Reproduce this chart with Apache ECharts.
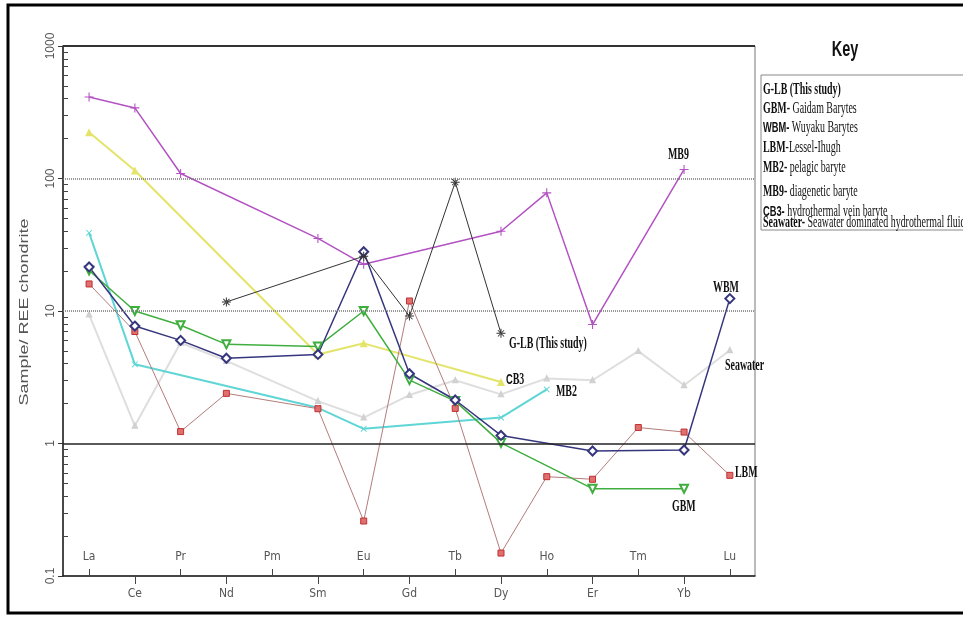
<!DOCTYPE html>
<html><head><meta charset="utf-8">
<script src="https://cdn.jsdelivr.net/npm/echarts@6/dist/echarts.min.js"></script>
<style>html,body{margin:0;padding:0;background:#fff}#c{width:963px;height:617px}</style>
</head><body><div id="c"></div>
<script>
// ---- data ----
const ree = ['La','Ce','Pr','Nd','Pm','Sm','Eu','Gd','Tb','Dy','Ho','Er','Tm','Yb','Lu'];
const yTickValues = [0.1, 1, 10, 100, 1000];
const glb      = [null, null, null, 11.7, null, null, 25.9, 9.15, 93.8, 6.78, null, null, null, null, null];
const gbm      = [20.2, 10.0, 7.8, 5.6, null, 5.4, 10.0, 3.01, 2.09, 1.01, null, 0.456, null, 0.456, null];
const wbm      = [21.5, 7.7, 6.0, 4.4, null, 4.7, 28.0, 3.36, 2.13, 1.15, null, 0.878, null, 0.893, 12.4];
const lbm      = [16.0, 7.0, 1.23, 2.39, null, 1.83, 0.26, 11.9, 1.84, 0.149, 0.562, 0.537, 1.32, 1.22, 0.575];
const mb2      = [38.9, 3.96, null, null, null, 1.86, 1.29, null, null, 1.57, 2.56, null, null, null, null];
const mb9      = [412, 341, 109, null, null, 35.3, 22.5, null, null, 40.0, 77.9, 7.9, null, 117, null];
const cb3      = [223, 115, null, null, null, 4.7, 5.7, null, null, 2.91, null, null, null, null, null];
const seawater = [9.4, 1.36, 5.76, 4.2, null, 2.09, 1.57, 2.32, 3.0, 2.35, 3.1, 3.0, 4.98, 2.75, 5.05];

// ---- helpers ----
const pts = arr => arr.map((v, i) => v == null ? null : [i, v]).filter(Boolean);
const oddIdx = ree.map((_, i) => i).filter(i => i % 2 === 1);
const evenIdx = ree.map((_, i) => i).filter(i => i % 2 === 0);
const minorTicks = [];
for (let n = -1; n <= 2; n++) for (let k = 2; k <= 9; k++) minorTicks.push(Math.log10(k) + n);

const PLUS = 'path://M4.4,0h1.2v10h-1.2z M0,4.4h10v1.2h-10z';
const STAR = 'path://M4.45,0h1.1v10h-1.1z M0,4.45h10v1.1h-10z M1.2,1.9L1.9,1.2L8.8,8.1L8.1,8.8Z M8.8,1.9L8.1,1.2L1.2,8.1L1.9,8.8Z';

const XMIN = -0.57, XMAX = 14.55;
const tickFont = '"DejaVu Sans Condensed","Liberation Sans",sans-serif';

function line(name, arr, color, width, symbol, size, extra) {
  return Object.assign({
    name, type: 'line', data: pts(arr), xAxisIndex: 0, yAxisIndex: 0,
    symbol, symbolSize: size, showSymbol: true,
    lineStyle: { color, width }, itemStyle: { color, borderWidth: 1 },
    animation: false, silent: true
  }, extra || {});
}

const chart = echarts.init(document.getElementById('c'), null, { renderer: 'canvas' });

const series = [
  line('Seawater', seawater, '#dedede', 2, 'emptyTriangle', 4, {
    itemStyle: { color: '#d0d0d0', borderWidth: 1 },
    markLine: {
      silent: true, symbol: 'none', label: { show: false }, animation: false,
      data: [
        { yAxis: 1, lineStyle: { color: '#222', width: 1.5, type: 'solid' } },
        { yAxis: 10, lineStyle: { color: '#777', width: 1.5, type: [1, 1] } },
        { yAxis: 100, lineStyle: { color: '#777', width: 1.5, type: [1, 1] } },
        { yAxis: 1000, lineStyle: { color: '#333', width: 2, type: 'solid' } }
      ]
    }
  }),
  line('MB2', mb2, '#5fd5d5', 2, PLUS, 8, { symbolRotate: 45 }),
  line('CB3', cb3, '#e4e46a', 2, 'triangle', 8),
  line('MB9', mb9, '#b352c2', 1.5, PLUS, 9),
  line('LBM', lbm, '#b47c7c', 1, 'rect', 6, { itemStyle: { color: '#e07070', borderColor: '#c03030', borderWidth: 1 } }),
  line('GBM', gbm, '#3fae3f', 1.5, 'emptyTriangle', 8, { symbolRotate: 180 }),
  line('WBM', wbm, '#36367e', 1.5, 'emptyDiamond', 9),
  line('G-LB', glb, '#333333', 1, STAR, 9)
];

const serif = '"Liberation Serif","Times New Roman",serif';
const SX = 0.62;
function lbl(x, y, rich) {
  return { type: 'text', x, y, scaleX: SX, scaleY: 1, silent: true,
    style: { text: rich, fontFamily: serif, fontSize: 16, fill: '#111', textVerticalAlign: 'middle',
      rich: { b: { fontWeight: 'bold', fontFamily: serif, fontSize: 16, fill: '#111' },
              bs: { fontWeight: 'bold', fontFamily: '"Liberation Sans",sans-serif', fontSize: 15, fill: '#111' } } } };
}

const option = {
  backgroundColor: '#fff',
  animation: false,
  grid: [
    { left: 63, top: 46, width: 692, height: 530, show: true, borderColor: '#777', borderWidth: 1, backgroundColor: 'transparent' },
    { left: 63, top: 46, width: 692, height: 530, show: false }
  ],
  xAxis: [
    { type: 'value', gridIndex: 0, min: XMIN, max: XMAX, position: 'bottom',
      axisLine: { show: true, onZero: false, lineStyle: { color: '#222', width: 1.5 } },
      axisTick: { show: true, customValues: oddIdx, length: 8, lineStyle: { color: '#444' } },
      axisLabel: { show: true, customValues: oddIdx, formatter: v => ree[Math.round(v)] || '', margin: 12,
        color: '#555', fontSize: 12, fontFamily: tickFont },
      splitLine: { show: false } },
    { type: 'value', gridIndex: 1, min: XMIN, max: XMAX, position: 'bottom',
      axisLine: { show: false, onZero: false },
      axisTick: { show: true, inside: true, customValues: evenIdx, length: 7, lineStyle: { color: '#444' } },
      axisLabel: { show: true, inside: true, customValues: evenIdx, formatter: v => ree[Math.round(v)] || '', margin: 13,
        color: '#555', fontSize: 12, fontFamily: tickFont },
      splitLine: { show: false } }
  ],
  yAxis: [
    { type: 'log', logBase: 10, gridIndex: 0, min: 0.1, max: 1000, position: 'left',
      axisLine: { show: true, onZero: false, lineStyle: { color: '#222', width: 1.5 } },
      axisTick: { show: true, length: 5, lineStyle: { color: '#333' } },
      axisLabel: { show: true, rotate: 90, margin: 6, color: '#555', fontSize: 12, fontFamily: '"Liberation Sans",sans-serif',
        formatter: v => { const r = yTickValues.find(t => Math.abs(t - v) / t < 1e-6); return r == null ? '' : String(r); } },
      splitLine: { show: false }, minorTick: { show: false } },
    { type: 'value', gridIndex: 1, min: -1, max: 3, position: 'left',
      axisLine: { show: false, onZero: false },
      axisTick: { show: true, inside: true, customValues: minorTicks, length: 5, lineStyle: { color: '#444' } },
      axisLabel: { show: false }, splitLine: { show: false } }
  ],
  series,
  graphic: [
    { type: 'rect', silent: true, shape: { x: 8, y: 5, width: 1000, height: 608 }, style: { fill: 'none', stroke: '#000', lineWidth: 3 } },
    { type: 'text', x: 25, y: 312, rotation: Math.PI / 2, scaleX: 1, scaleY: 0.68, silent: true,
      style: { text: 'Sample/ REE chondrite', fontFamily: '"Liberation Sans",sans-serif', fontSize: 18, fill: '#555', textAlign: 'center', textVerticalAlign: 'middle' } },
    { type: 'text', x: 845, y: 50, scaleX: 0.66, silent: true,
      style: { text: 'Key', fontFamily: '"Liberation Sans",sans-serif', fontWeight: 'bold', fontSize: 22, fill: '#111', textAlign: 'center', textVerticalAlign: 'middle' } },
    { type: 'rect', silent: true, shape: { x: 761, y: 75, width: 260, height: 155 }, style: { fill: 'none', stroke: '#888', lineWidth: 1 } },
    lbl(763, 90, '{b|G-LB (This study)}'),
    lbl(763, 109, '{b|GBM-} Gaidam Barytes'),
    lbl(763, 128, '{bs|WBM-} Wuyaku Barytes'),
    lbl(763, 148, '{b|LBM}-Lessel-Ihugh'),
    lbl(763, 168, '{b|MB2-} pelagic baryte'),
    lbl(763, 192, '{b|MB9-} diagenetic baryte'),
    lbl(763, 212, '{bs|CB3-} hydrothermal vein baryte'),
    lbl(763, 223, '{b|Seawater-} Seawater dominated hydrothermal fluids'),
    lbl(668, 155, '{b|MB9}'),
    lbl(713, 288, '{b|WBM}'),
    lbl(509, 344, '{b|G-LB (This study)}'),
    lbl(506, 380, '{bs|C}{b|B3}'),
    lbl(556, 392, '{b|MB2}'),
    lbl(725, 366, '{b|Seawater}'),
    lbl(735, 473, '{b|LBM}'),
    lbl(672, 507, '{b|GBM}')
  ]
};
chart.setOption(option);
</script></body></html>
